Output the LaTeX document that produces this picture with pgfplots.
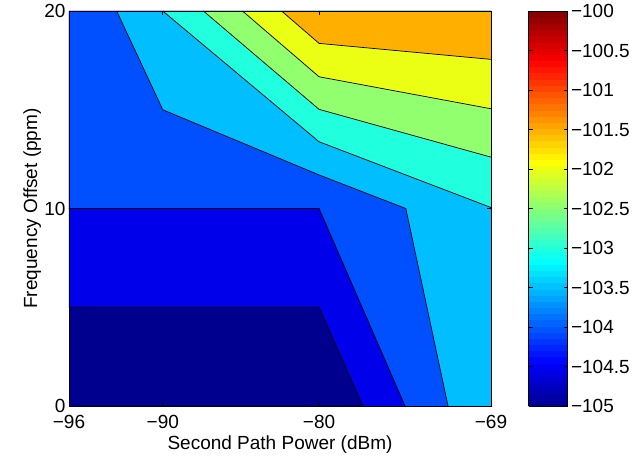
\documentclass[border=0pt]{standalone}
\usepackage{fontspec}
\setmainfont{Liberation Sans}
\usepackage{pgfplots}
\pgfplotsset{compat=1.18}
\newcommand{\myfont}{\fontsize{19}{22}\selectfont}
\definecolor{c0}{RGB}{0,0,143}
\definecolor{c1}{RGB}{0,0,235}
\definecolor{c2}{RGB}{0,80,255}
\definecolor{c3}{RGB}{0,190,255}
\definecolor{c4}{RGB}{32,255,222}
\definecolor{c5}{RGB}{145,255,110}
\definecolor{c6}{RGB}{235,255,20}
\definecolor{c7}{RGB}{255,175,0}
\pgfplotsset{tick label style={font=\myfont}, label style={font=\myfont}}
\begin{document}
\begin{tikzpicture}[font=\myfont]
\path[use as bounding box] (-69pt,-55pt) rectangle (575pt,406pt);
\begin{axis}[
  scale only axis, width=422pt, height=395pt,
  xmin=-96, xmax=-69, ymin=0, ymax=20,
  xtick={-96,-90,-80,-69}, xticklabels={−96,−90,−80,−69},
  ytick={0,10,20}, yticklabels={0,10,20},
  tick align=inside, major tick length=4pt,
  xtick pos=both, ytick pos=both,
  xticklabel pos=bottom, yticklabel pos=left,
  xticklabel style={anchor=base, yshift=-22pt},
  every axis x label/.style={at={(axis description cs:0.5,-0.1089)}, anchor=base},
  every axis y label/.style={at={(axis description cs:-0.0758,0.5)}, anchor=base, rotate=90},
  xlabel={Second Path Power (dBm)},
  ylabel={Frequency Offset (ppm)},
  axis on top,
  axis line style={line width=0.8pt},
  tick style={black, line width=0.6pt},
  point meta min=-105, point meta max=-100,
  colormap={mjet}{rgb255(0cm)=(0,0,143); rgb255(7cm)=(0,0,255); rgb255(23cm)=(0,255,255); rgb255(39cm)=(255,255,0); rgb255(55cm)=(255,0,0); rgb255(63cm)=(128,0,0)},
  colorbar sampled,
  colorbar style={
    at={(parent axis.north east)}, anchor=north west, xshift=29pt,
    scale only axis, width=39pt, height=395pt,
    samples=65,
    ytick={-105,-104.5,-104,-103.5,-103,-102.5,-102,-101.5,-101,-100.5,-100},
    yticklabels={−105,−104.5,−104,−103.5,−103,−102.5,−102,−101.5,−101,−100.5,−100},
    tick align=inside, major tick length=4pt,
    ytick pos=both, yticklabel pos=right,
    axis line style={line width=0.8pt},
    tick style={black, line width=0.6pt},
    yticklabel style={font=\myfont},
  },
]
% filled regions (superlevel sets, lowest first)
\addplot[fill=c0, draw=none] coordinates {(-96,0) (-69,0) (-69,20) (-96,20)} -- cycle;
\addplot[fill=c1, draw=none] coordinates {(-96,5) (-80,5) (-77.2,0) (-69,0) (-69,20) (-96,20)} -- cycle;
\addplot[fill=c2, draw=none] coordinates {(-96,10) (-80,10) (-74.5,0) (-69,0) (-69,20) (-96,20)} -- cycle;
\addplot[fill=c3, draw=none] coordinates {(-92.95,20) (-90,15) (-80,11.7) (-74.45,10) (-71.75,0) (-69,0) (-69,20)} -- cycle;
\addplot[fill=c4, draw=none] coordinates {(-90,20) (-80,13.38) (-69,10.05) (-69,20)} -- cycle;
\addplot[fill=c5, draw=none] coordinates {(-87.4,20) (-80,15.02) (-69,12.6) (-69,20)} -- cycle;
\addplot[fill=c6, draw=none] coordinates {(-84.9,20) (-80,16.67) (-69,15.05) (-69,20)} -- cycle;
\addplot[fill=c7, draw=none] coordinates {(-82.4,20) (-80,18.36) (-69,17.55) (-69,20)} -- cycle;
% contour lines
\addplot[black, line width=0.7pt] coordinates {(-96,5) (-80,5) (-77.2,0)};
\addplot[black, line width=0.7pt] coordinates {(-96,10) (-80,10) (-74.5,0)};
\addplot[black, line width=0.7pt] coordinates {(-92.95,20) (-90,15) (-80,11.7) (-74.45,10) (-71.75,0)};
\addplot[black, line width=0.7pt] coordinates {(-90,20) (-80,13.38) (-69,10.05)};
\addplot[black, line width=0.7pt] coordinates {(-87.4,20) (-80,15.02) (-69,12.6)};
\addplot[black, line width=0.7pt] coordinates {(-84.9,20) (-80,16.67) (-69,15.05)};
\addplot[black, line width=0.7pt] coordinates {(-82.4,20) (-80,18.36) (-69,17.55)};
\end{axis}
\end{tikzpicture}
\end{document}
